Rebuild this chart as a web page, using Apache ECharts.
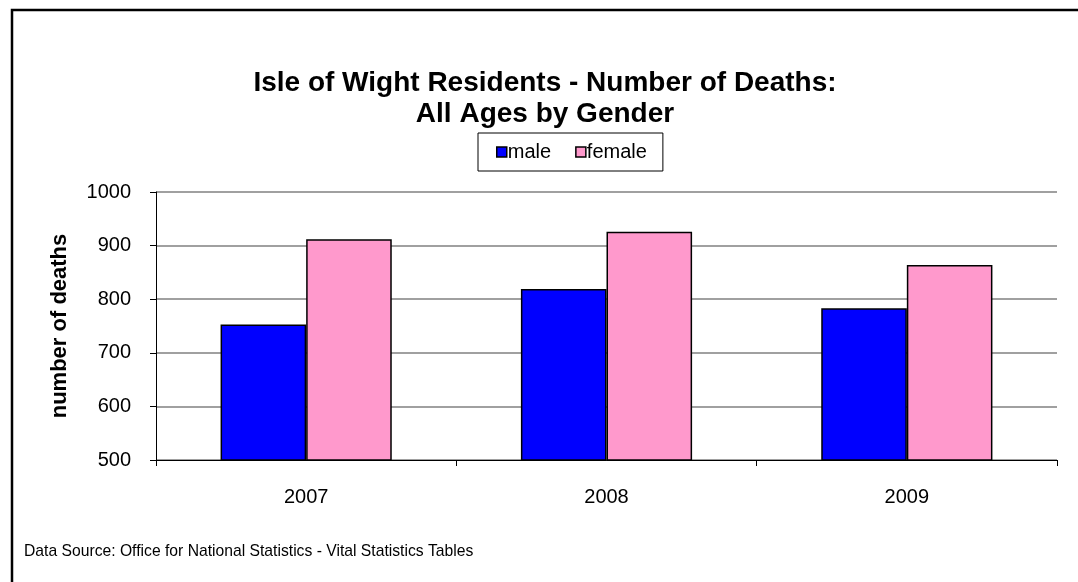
<!DOCTYPE html>
<html>
<head>
<meta charset="utf-8">
<script src="https://cdn.jsdelivr.net/npm/echarts@6/dist/echarts.min.js"></script>
<style>
  html, body { margin: 0; padding: 0; background: #fff; }
  #chart { width: 1078px; height: 582px; }
</style>
</head>
<body>
<div id="chart"></div>
<script>
// data
const years = ['2007', '2008', '2009'];
const maleDeaths = [753, 819, 783];
const femaleDeaths = [912, 926, 864];

const font = 'Liberation Sans, Arial, sans-serif';
const chart = echarts.init(document.getElementById('chart'));

chart.setOption({
  animation: false,
  backgroundColor: '#fff',
  textStyle: { fontFamily: font },
  title: {
    text: 'Isle of Wight Residents - Number of Deaths:\nAll Ages by Gender',
    left: 540,
    top: 63,
    textAlign: 'center',
    textStyle: { fontSize: 28, fontWeight: 'bold', color: '#000', lineHeight: 31, fontFamily: font }
  },
  legend: {
    data: ['male', 'female'],
    left: 478,
    top: 133,
    padding: [9, 16, 9, 18],
    borderColor: '#000',
    borderWidth: 1,
    itemWidth: 10,
    itemHeight: 10,
    itemGap: 24,
    icon: 'rect',
    textStyle: { fontSize: 20, color: '#000', padding: [0, 0, 0, -4] },
    itemStyle: { borderColor: '#000', borderWidth: 1.5 }
  },
  graphic: [{
    type: 'rect',
    shape: { x: 12, y: 10, width: 1100, height: 600 },
    style: { fill: 'none', stroke: '#000', lineWidth: 2.5 },
    silent: true
  }, {
    type: 'text',
    left: 24,
    top: 544,
    style: { text: 'Data Source: Office for National Statistics - Vital Statistics Tables', font: '15.7px ' + font, fill: '#000' }
  }],
  grid: { left: 156, right: 21, top: 192, bottom: 122 },
  xAxis: {
    type: 'category',
    data: years,
    axisLine: { lineStyle: { color: '#000', width: 1 } },
    axisTick: { show: true, length: 6, lineStyle: { color: '#000' } },
    axisLabel: { fontSize: 20, color: '#000', margin: 27 }
  },
  yAxis: {
    type: 'value',
    min: 500,
    max: 1000,
    interval: 100,
    name: 'number of deaths',
    nameLocation: 'middle',
    nameGap: 85,
    nameTextStyle: { fontSize: 22, fontWeight: 'bold', color: '#000' },
    axisLine: { show: true, lineStyle: { color: '#000', width: 1 } },
    axisTick: { show: true, length: 6, lineStyle: { color: '#000' } },
    axisLabel: { fontSize: 20, color: '#000', margin: 25, formatter: v => String(v) },
    splitLine: { lineStyle: { color: '#808080', width: 1.5 } }
  },
  series: [{
    name: 'male',
    type: 'bar',
    data: maleDeaths,
    barGap: '0%',
    barCategoryGap: '43%',
    itemStyle: { color: '#0000ff', borderColor: '#000', borderWidth: 1.5 }
  }, {
    name: 'female',
    type: 'bar',
    data: femaleDeaths,
    itemStyle: { color: '#ff99cc', borderColor: '#000', borderWidth: 1.5 }
  }]
});
</script>
</body>
</html>
